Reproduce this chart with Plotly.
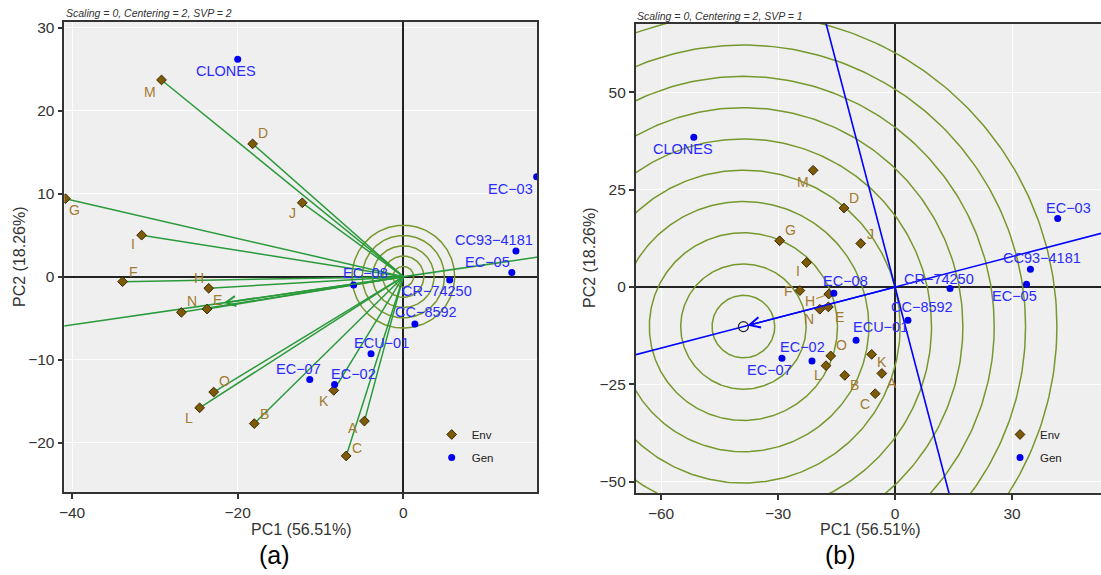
import numpy as np
import plotly.graph_objects as go

# ---------------- data ----------------
env_names = ["A", "B", "C", "D", "E", "F", "G", "H", "I", "J", "K", "L", "M", "N", "O"]
env_pc1_svp2 = [-4.7, -18.0, -6.9, -18.2, -23.7, -33.9, -40.8, -23.5, -31.6, -12.2, -8.4, -24.6, -29.2, -26.8, -22.9]
env_pc2_svp2 = [-17.4, -17.7, -21.6, 16.0, -3.9, -0.6, 9.4, -1.4, 5.0, 8.9, -13.7, -15.8, 23.7, -4.3, -13.9]
env_pc1_svp1 = [-3.4, -12.9, -5.1, -13.1, -17.1, -24.4, -29.6, -17.0, -22.7, -8.8, -6.0, -17.7, -21.0, -19.3, -16.5]
env_pc2_svp1 = [-22.2, -22.7, -27.4, 20.3, -5.1, -0.9, 11.9, -1.8, 6.3, 11.2, -17.3, -20.2, 30.0, -5.7, -17.7]

gen_names = ["CLONES", "EC\u221203", "CC93\u22124181", "EC\u221205", "EC\u221208",
             "CR\u221274250", "CC\u22128592", "ECU\u221201", "EC\u221207", "EC\u221202"]
gen_pc1_svp2 = [-20.0, 16.1, 13.6, 13.1, -6.0, 5.6, 1.4, -3.9, -11.3, -8.3]
gen_pc2_svp2 = [26.2, 12.05, 3.1, 0.5, -1.0, -0.4, -5.7, -9.3, -12.4, -13.0]
gen_pc1_svp1 = [-51.6, 41.7, 34.7, 33.7, -15.7, 14.1, 3.3, -10.0, -29.0, -21.3]
gen_pc2_svp1 = [38.5, 17.6, 4.6, 0.7, -1.6, -0.4, -8.5, -13.7, -18.3, -19.0]

pc1_title = "PC1 (56.51%)"
pc2_title = "PC2 (18.26%)"
subtitle_a = "Scaling = 0, Centering = 2, SVP = 2"
subtitle_b = "Scaling = 0, Centering = 2, SVP = 1"
circle_step_a = 1.24      # spacing of concentric circles in panel (a)
n_circles_a = 5
n_circles_b = 10

# ---------------- label placement (pixels: dx right, dy down) ----------------
env_off_a = [(-11, 7), (10, -10), (10.7, -8.4), (10.3, -10.4), (10.4, -9), (10.4, -9.3), (9.3, 11),
             (-10, -10), (-9, 8.5), (-9.6, 10), (-10, 10.7), (-10.3, 10), (-11.3, 11.7), (10.7, -11), (11, -10.6)]
gen_off_a = [(-11.3, 11.7), (-26, 12.3), (-22.4, -11.4), (-24.7, -11), (11.7, -11.7),
             (-12.7, 11), (11.5, -11.6), (10.7, -10.7), (-11.7, -11), (18.5, -11)]
env_off_b = [(10, 10), (10, 10), (-10.3, 10), (10, -10.3), (10.7, 10.3), (-11, 0), (10.7, -10.7),
             (-19, 7), (-8.4, 8.3), (9.3, -9.7), (10, 8), (-7.7, 9.7), (-10.6, 11.6), (-11, 10), (10.7, -10.7)]
gen_off_b = [(-11, 11.6), (10.7, -11), (11.7, -11), (-11.7, 11.4), (12, -12.3),
             (-11, -10), (14.5, -13), (24.3, -13.3), (-12, 11.3), (-9.5, -13.7)]
leader_b = ["H"]

# ---------------- styles ----------------
FONT = "Liberation Sans, Arial, sans-serif"
GREEN = "#2A9A3A"
OLIVE = "#76982C"
BLUE_LINE = "#0000FF"
ENV_FILL = "#7D5A08"
ENV_EDGE = "#3A2800"
ENV_TXT = "#A27A30"
GEN_PT = "#0000EE"
GEN_TXT = "#2B2BFF"
W, H = 1101, 575

fig = go.Figure()

# ---------- panel (a) ----------
ex_a = np.array(env_pc1_svp2); ey_a = np.array(env_pc2_svp2)
theta = np.linspace(0, 2 * np.pi, 361)
cx, cy = [], []
for k in range(1, n_circles_a + 1):
    r = circle_step_a * k
    cx += list(r * np.cos(theta)) + [None]
    cy += list(r * np.sin(theta)) + [None]
fig.add_trace(go.Scatter(x=cx, y=cy, mode="lines", line=dict(color=OLIVE, width=1.5),
                         showlegend=False, hoverinfo="skip", xaxis="x", yaxis="y"))
# average environment axis
mxa, mya = ex_a.mean(), ey_a.mean()
ua = np.array([mxa, mya]) / np.hypot(mxa, mya)
T = 200
fig.add_trace(go.Scatter(x=[-T * ua[0], T * ua[0]], y=[-T * ua[1], T * ua[1]], mode="lines",
                         line=dict(color=GREEN, width=1.5), showlegend=False, hoverinfo="skip",
                         xaxis="x", yaxis="y"))
# vectors
vx, vy = [], []
for x, y in zip(ex_a, ey_a):
    vx += [0, x, None]; vy += [0, y, None]
fig.add_trace(go.Scatter(x=vx, y=vy, mode="lines", line=dict(color=GREEN, width=1.5),
                         showlegend=False, hoverinfo="skip", xaxis="x", yaxis="y"))
fig.add_trace(go.Scatter(x=env_pc1_svp2, y=env_pc2_svp2, mode="markers", name="Env",
                         legendgroup="env", legend="legend",
                         marker=dict(symbol="diamond", size=7.5, color=ENV_FILL,
                                     line=dict(color=ENV_EDGE, width=1)),
                         xaxis="x", yaxis="y"))
fig.add_trace(go.Scatter(x=gen_pc1_svp2, y=gen_pc2_svp2, mode="markers", name="Gen",
                         legendgroup="gen", legend="legend",
                         marker=dict(symbol="circle", size=7, color=GEN_PT),
                         xaxis="x", yaxis="y"))

# ---------- panel (b) ----------
ex_b = np.array(env_pc1_svp1); ey_b = np.array(env_pc2_svp1)
gx_b = np.array(gen_pc1_svp1); gy_b = np.array(gen_pc2_svp1)
mxb, myb = ex_b.mean(), ey_b.mean()
ub = np.array([mxb, myb]) / np.hypot(mxb, myb)
proj = gx_b * ub[0] + gy_b * ub[1]
ideal_len = proj.max()
ideal = ub * ideal_len
step_b = ideal_len / 5
cx, cy = [], []
for k in range(1, n_circles_b + 1):
    r = step_b * k
    cx += list(ideal[0] + r * np.cos(theta)) + [None]
    cy += list(ideal[1] + r * np.sin(theta)) + [None]
fig.add_trace(go.Scatter(x=cx, y=cy, mode="lines", line=dict(color=OLIVE, width=1.5),
                         showlegend=False, hoverinfo="skip", xaxis="x2", yaxis="y2"))
perp = np.array([-ub[1], ub[0]])
fig.add_trace(go.Scatter(x=[-T * ub[0], T * ub[0], None, -T * perp[0], T * perp[0]],
                         y=[-T * ub[1], T * ub[1], None, -T * perp[1], T * perp[1]],
                         mode="lines", line=dict(color=BLUE_LINE, width=1.6),
                         showlegend=False, hoverinfo="skip", xaxis="x2", yaxis="y2"))
fig.add_trace(go.Scatter(x=[ideal[0]], y=[ideal[1]], mode="markers",
                         marker=dict(symbol="circle-open", size=10, color="#222", line=dict(width=1.2)),
                         showlegend=False, hoverinfo="skip", xaxis="x2", yaxis="y2"))
fig.add_trace(go.Scatter(x=env_pc1_svp1, y=env_pc2_svp1, mode="markers", name="Env",
                         legendgroup="env", legend="legend2",
                         marker=dict(symbol="diamond", size=7.5, color=ENV_FILL,
                                     line=dict(color=ENV_EDGE, width=1)),
                         xaxis="x2", yaxis="y2"))
fig.add_trace(go.Scatter(x=gen_pc1_svp1, y=gen_pc2_svp1, mode="markers", name="Gen",
                         legendgroup="gen", legend="legend2",
                         marker=dict(symbol="circle", size=7, color=GEN_PT),
                         xaxis="x2", yaxis="y2"))

# ---------- annotations ----------
ann = []


def add_labels(names, xs, ys, offs, color, size, xr, yr, leaders=()):
    for n, x, y, (dx, dy) in zip(names, xs, ys, offs):
        if n in leaders:
            ann.append(dict(x=x, y=y, xref=xr, yref=yr, text=n, showarrow=True, ax=dx, ay=dy,
                            arrowhead=0, arrowwidth=1, arrowcolor=color, standoff=4,
                            font=dict(family=FONT, size=size, color=color)))
        else:
            ann.append(dict(x=x, y=y, xref=xr, yref=yr, text=n, showarrow=False,
                            xshift=dx, yshift=-dy, xanchor="center", yanchor="middle",
                            font=dict(family=FONT, size=size, color=color)))


add_labels(env_names, env_pc1_svp2, env_pc2_svp2, env_off_a, ENV_TXT, 14, "x", "y")
add_labels(gen_names, gen_pc1_svp2, gen_pc2_svp2, gen_off_a, GEN_TXT, 14.5, "x", "y")
add_labels(env_names, env_pc1_svp1, env_pc2_svp1, env_off_b, ENV_TXT, 14, "x2", "y2", leader_b)
add_labels(gen_names, gen_pc1_svp1, gen_pc2_svp1, gen_off_b, GEN_TXT, 14.5, "x2", "y2")

# arrows
ann.append(dict(x=mxa, y=mya, ax=0, ay=0, xref="x", yref="y", axref="x", ayref="y", text="",
                showarrow=True, arrowhead=5, arrowsize=1.3, arrowwidth=1.5, arrowcolor=GREEN))
ann.append(dict(x=ideal[0], y=ideal[1], ax=0, ay=0, xref="x2", yref="y2", axref="x2", ayref="y2",
                text="", showarrow=True, arrowhead=5, arrowsize=1.3, arrowwidth=1.6,
                arrowcolor=BLUE_LINE, standoff=4))

# titles / captions
dom_a = [64.3 / W, 537.3 / W]
dom_b = [635.7 / W, 1.0]
ya_dom = [1 - 492.3 / H, 1 - 21.7 / H]
yb_dom = [1 - 493.3 / H, 1 - 24.0 / H]
txt = "#333333"
ann += [
    dict(x=301 / W, y=1 - 529.5 / H, xref="paper", yref="paper", text=pc1_title, showarrow=False,
         font=dict(family=FONT, size=16, color=txt), xanchor="center", yanchor="middle"),
    dict(x=870 / W, y=1 - 529.5 / H, xref="paper", yref="paper", text=pc1_title, showarrow=False,
         font=dict(family=FONT, size=16, color=txt), xanchor="center", yanchor="middle"),
    dict(x=19 / W, y=1 - 257 / H, xref="paper", yref="paper", text=pc2_title, showarrow=False,
         textangle=-90, font=dict(family=FONT, size=16, color=txt), xanchor="center", yanchor="middle"),
    dict(x=589 / W, y=1 - 258 / H, xref="paper", yref="paper", text=pc2_title, showarrow=False,
         textangle=-90, font=dict(family=FONT, size=16, color=txt), xanchor="center", yanchor="middle"),
    dict(x=64.3 / W, y=1 - 13.3 / H, xref="paper", yref="paper", text="<i>" + subtitle_a + "</i>",
         showarrow=False, font=dict(family=FONT, size=10.5, color=txt), xanchor="left", yanchor="middle"),
    dict(x=635 / W, y=1 - 16 / H, xref="paper", yref="paper", text="<i>" + subtitle_b + "</i>",
         showarrow=False, font=dict(family=FONT, size=10.5, color=txt), xanchor="left", yanchor="middle"),
    dict(x=274.7 / W, y=1 - 555 / H, xref="paper", yref="paper", text="(a)", showarrow=False,
         font=dict(family=FONT, size=25, color="black"), xanchor="center", yanchor="middle"),
    dict(x=840.8 / W, y=1 - 555 / H, xref="paper", yref="paper", text="(b)", showarrow=False,
         font=dict(family=FONT, size=25, color="black"), xanchor="center", yanchor="middle"),
]

axis_common = dict(showgrid=True, gridcolor="white", gridwidth=1.2, zeroline=True,
                   zerolinecolor="#222", zerolinewidth=1.6, showline=True, linecolor="#333",
                   linewidth=1.5, ticks="outside", ticklen=5, tickwidth=1.5, tickcolor="#333",
                   automargin=False,
                   tickfont=dict(family=FONT, size=15.5, color=txt))

fig.update_layout(
    width=W, height=H, margin=dict(l=0, r=0, t=0, b=0, autoexpand=False),
    paper_bgcolor="white", plot_bgcolor="#EFEFEF",
    xaxis=dict(domain=dom_a, range=[-40.94, 16.18], tickvals=[-40, -20, 0], anchor="y",
               mirror=True, **axis_common),
    yaxis=dict(domain=ya_dom, range=[-25.98, 30.72], tickvals=[-20, -10, 0, 10, 20, 30], anchor="x",
               mirror=True, **axis_common),
    xaxis2=dict(domain=dom_b, range=[-66.5, 52.8], tickvals=[-60, -30, 0, 30], anchor="y2",
                mirror=True, **axis_common),
    yaxis2=dict(domain=yb_dom, range=[-53.0, 67.6], tickvals=[-50, -25, 0, 25, 50], anchor="x2",
                mirror=False, **axis_common),
    annotations=ann,
    legend=dict(x=431.7 / W, y=1 - 420 / H, xanchor="left", yanchor="top", bgcolor="rgba(0,0,0,0)",
                font=dict(family=FONT, size=11.5, color="#222"), tracegroupgap=4),
    legend2=dict(x=1000 / W, y=1 - 420 / H, xanchor="left", yanchor="top", bgcolor="rgba(0,0,0,0)",
                 font=dict(family=FONT, size=11.5, color="#222"), tracegroupgap=4),
)

fig.write_html("out.html", config={"displayModeBar": False},
               post_script="document.body.style.margin='0';document.body.style.padding='0';")
